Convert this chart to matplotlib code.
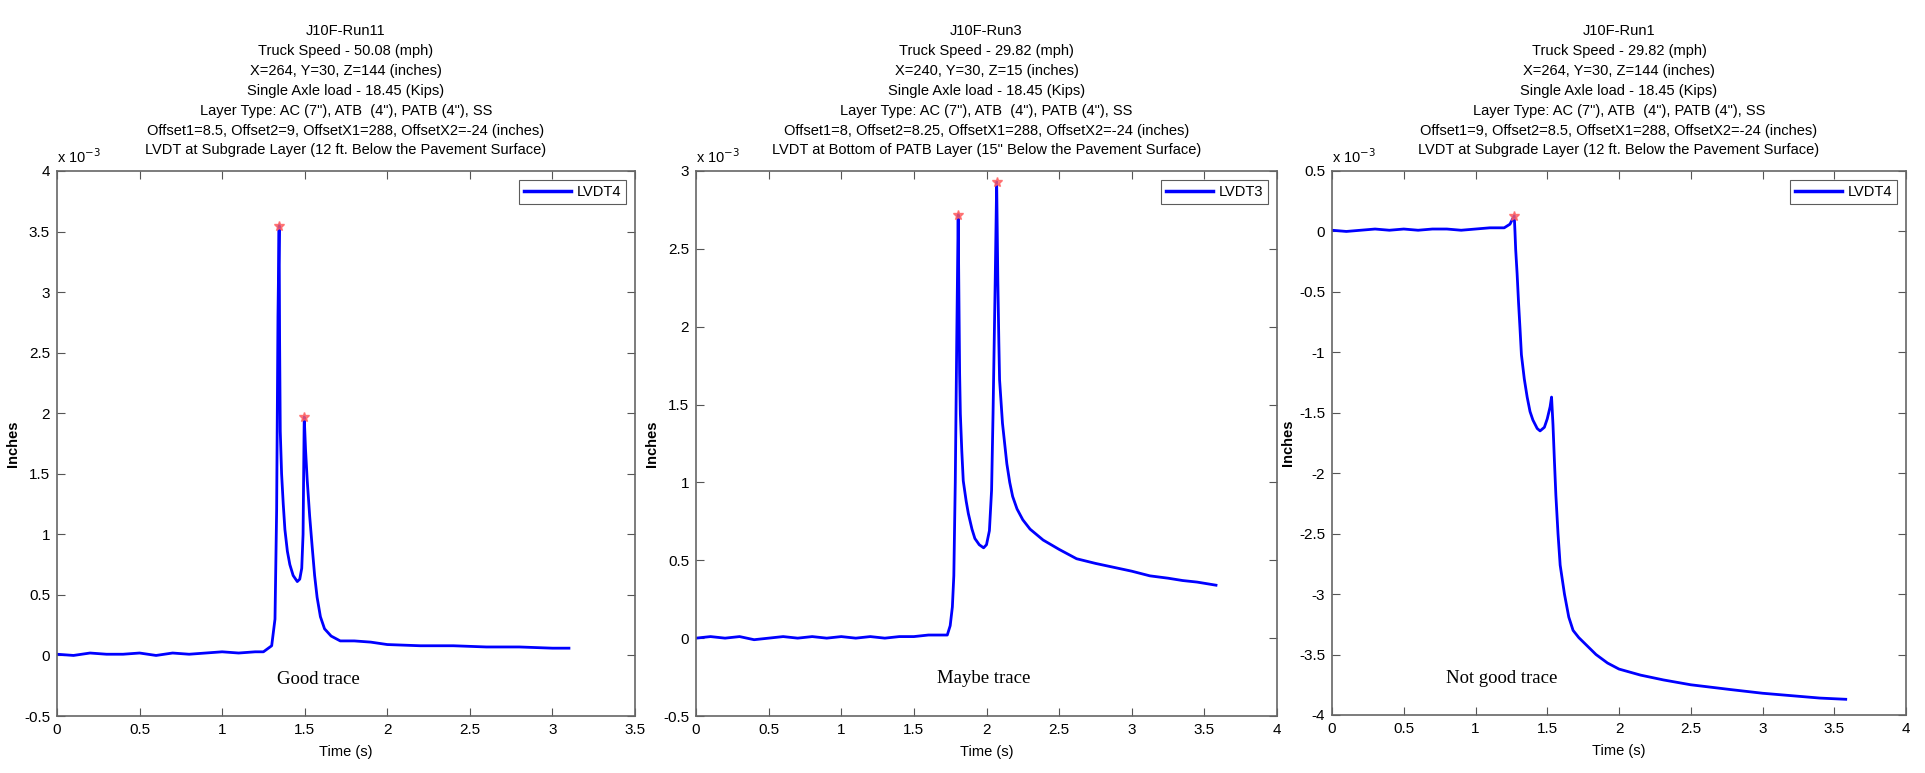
import matplotlib
matplotlib.use("Agg")
import matplotlib.pyplot as plt

plt.rcParams['font.family'] = ['Liberation Sans', 'DejaVu Sans']

# Displacement traces, values in units of 1e-3 inches
t_run11 = [0, 0.1, 0.2, 0.3, 0.4, 0.5, 0.6, 0.7, 0.8, 0.9, 1.0, 1.1, 1.2, 1.25,
           1.3, 1.32, 1.33, 1.338, 1.345, 1.348, 1.352, 1.36, 1.37, 1.38, 1.395,
           1.41, 1.43, 1.455, 1.47, 1.482, 1.49, 1.497, 1.505, 1.515, 1.53,
           1.545, 1.56, 1.575, 1.595, 1.62, 1.66, 1.715, 1.8, 1.9, 2.0, 2.2,
           2.4, 2.6, 2.8, 3.0, 3.1]
v_run11 = [0.01, 0.0, 0.02, 0.01, 0.01, 0.02, 0.0, 0.02, 0.01, 0.02, 0.03, 0.02,
           0.03, 0.03, 0.08, 0.3, 1.2, 2.8, 3.55, 2.6, 1.85, 1.5, 1.25, 1.04,
           0.86, 0.75, 0.66, 0.61, 0.63, 0.72, 1.0, 1.97, 1.7, 1.45, 1.15, 0.9,
           0.66, 0.48, 0.32, 0.22, 0.16, 0.12, 0.12, 0.11, 0.09, 0.08, 0.08,
           0.07, 0.07, 0.06, 0.06]

t_run3 = [0, 0.1, 0.2, 0.3, 0.4, 0.5, 0.6, 0.7, 0.8, 0.9, 1.0, 1.1, 1.2, 1.3,
          1.4, 1.5, 1.6, 1.7, 1.73, 1.75, 1.765, 1.775, 1.785, 1.795, 1.805,
          1.81, 1.815, 1.82, 1.83, 1.84, 1.86, 1.875, 1.9, 1.92, 1.95, 1.98,
          2.0, 2.02, 2.035, 2.045, 2.06, 2.07, 2.078, 2.085, 2.09, 2.11, 2.14,
          2.16, 2.18, 2.21, 2.25, 2.3, 2.39, 2.5, 2.62, 2.75, 2.9, 3.0, 3.125,
          3.25, 3.35, 3.45, 3.58]
v_run3 = [0.0, 0.01, 0.0, 0.01, -0.01, 0.0, 0.01, 0.0, 0.01, 0.0, 0.01, 0.0,
          0.01, 0.0, 0.01, 0.01, 0.02, 0.02, 0.02, 0.08, 0.2, 0.4, 1.0, 1.9,
          2.72, 2.2, 1.7, 1.44, 1.2, 1.01, 0.88, 0.80, 0.70, 0.64, 0.60, 0.58,
          0.60, 0.69, 0.95, 1.44, 2.3, 2.93, 2.3, 1.9, 1.66, 1.38, 1.12, 1.0,
          0.91, 0.83, 0.76, 0.70, 0.63, 0.57, 0.51, 0.48, 0.45, 0.43, 0.40,
          0.385, 0.37, 0.36, 0.34]

t_run1 = [0, 0.1, 0.2, 0.3, 0.4, 0.5, 0.6, 0.7, 0.8, 0.9, 1.0, 1.1, 1.2, 1.24,
          1.27, 1.275, 1.28, 1.29, 1.30, 1.31, 1.32, 1.34, 1.36, 1.38, 1.40,
          1.43, 1.45, 1.48, 1.5, 1.52, 1.53, 1.54, 1.55, 1.56, 1.575, 1.59,
          1.62, 1.65, 1.68, 1.72, 1.78, 1.84, 1.92, 2.0, 2.15, 2.31, 2.5, 2.78,
          3.0, 3.2, 3.4, 3.58]
v_run1 = [0.01, 0.0, 0.01, 0.02, 0.01, 0.02, 0.01, 0.02, 0.02, 0.01, 0.02, 0.03,
          0.03, 0.06, 0.13, 0.0, -0.15, -0.35, -0.59, -0.8, -1.02, -1.22,
          -1.37, -1.49, -1.56, -1.63, -1.65, -1.62, -1.55, -1.45, -1.37, -1.6,
          -1.9, -2.18, -2.5, -2.76, -3.0, -3.19, -3.3, -3.36, -3.43, -3.5,
          -3.57, -3.62, -3.67, -3.71, -3.75, -3.79, -3.82, -3.84, -3.86, -3.87]

# Detected peaks (red stars)
pk_run11_t, pk_run11_v = [1.345, 1.497], [3.55, 1.97]
pk_run3_t, pk_run3_v = [1.805, 2.07], [2.72, 2.93]
pk_run1_t, pk_run1_v = [1.27], [0.13]

titles = [
    "J10F-Run11\nTruck Speed - 50.08 (mph)\nX=264, Y=30, Z=144 (inches)\n"
    "Single Axle load - 18.45 (Kips)\nLayer Type: AC (7\"), ATB  (4\"), PATB (4\"), SS\n"
    "Offset1=8.5, Offset2=9, OffsetX1=288, OffsetX2=-24 (inches)\n"
    "LVDT at Subgrade Layer (12 ft. Below the Pavement Surface)",
    "J10F-Run3\nTruck Speed - 29.82 (mph)\nX=240, Y=30, Z=15 (inches)\n"
    "Single Axle load - 18.45 (Kips)\nLayer Type: AC (7\"), ATB  (4\"), PATB (4\"), SS\n"
    "Offset1=8, Offset2=8.25, OffsetX1=288, OffsetX2=-24 (inches)\n"
    "LVDT at Bottom of PATB Layer (15\" Below the Pavement Surface)",
    "J10F-Run1\nTruck Speed - 29.82 (mph)\nX=264, Y=30, Z=144 (inches)\n"
    "Single Axle load - 18.45 (Kips)\nLayer Type: AC (7\"), ATB  (4\"), PATB (4\"), SS\n"
    "Offset1=9, Offset2=8.5, OffsetX1=288, OffsetX2=-24 (inches)\n"
    "LVDT at Subgrade Layer (12 ft. Below the Pavement Surface)",
]
legends = ["LVDT4", "LVDT3", "LVDT4"]
notes = ["Good trace", "Maybe trace", "Not good trace"]
note_pos = [(1.58, -0.2), (1.98, -0.26), (1.18, -3.70)]

series = [(t_run11, v_run11, pk_run11_t, pk_run11_v),
          (t_run3, v_run3, pk_run3_t, pk_run3_v),
          (t_run1, v_run1, pk_run1_t, pk_run1_v)]
xlims = [(0, 3.5), (0, 4), (0, 4)]
ylims = [(-0.5, 4), (-0.5, 3), (-4, 0.5)]
yticks = [[-0.5, 0, 0.5, 1, 1.5, 2, 2.5, 3, 3.5, 4],
          [-0.5, 0, 0.5, 1, 1.5, 2, 2.5, 3],
          [-4, -3.5, -3, -2.5, -2, -1.5, -1, -0.5, 0, 0.5]]

W, H = 1925, 773
boxes = [(57, 635, 171, 716), (696, 1277, 171, 716), (1332, 1906, 171, 715)]

fig = plt.figure(figsize=(W / 100, H / 100), dpi=100)

for i, (l, r, top, bot) in enumerate(boxes):
    ax = fig.add_axes([l / W, 1 - bot / H, (r - l) / W, (bot - top) / H])
    t, v, pt, pv = series[i]
    ax.plot(t, v, color="blue", lw=2.0, label=legends[i])
    ax.plot(pt, pv, ls="none", marker="*", ms=7, color="#ff6060", alpha=0.8)
    ax.set_xlim(*xlims[i])
    ax.set_ylim(*ylims[i])
    ax.set_yticks(yticks[i])
    ax.set_yticklabels([f"{y:g}" for y in yticks[i]])
    xt = [x * 0.5 for x in range(int(xlims[i][1] * 2) + 1)]
    ax.set_xticks(xt)
    ax.set_xticklabels([f"{x:g}" for x in xt])
    ax.tick_params(direction="in", top=True, right=True, length=6,
                   width=0.8, color="#555555", labelsize=11, pad=5)
    for s in ax.spines.values():
        s.set_color("#666666")
        s.set_linewidth(1.2)
    ax.set_title(titles[i], fontsize=10.5, linespacing=1.53, pad=12)
    ax.set_xlabel("Time (s)", fontsize=10.5, labelpad=6)
    ax.set_ylabel("Inches", fontsize=10.5, fontweight="bold", labelpad=3)
    ax.text(0.0, 1.01, "x 10$^{-3}$", transform=ax.transAxes, fontsize=10.5,
            ha="left", va="bottom")
    ax.text(*note_pos[i], notes[i], family="Liberation Serif", fontsize=13.5,
            ha="center", va="center")
    leg = ax.legend(loc="upper right", fontsize=10.5, handlelength=3.2,
                    fancybox=False, borderaxespad=0.6, borderpad=0.35,
                    handletextpad=0.4)
    leg.get_frame().set_edgecolor("#333333")
    leg.get_frame().set_linewidth(0.8)
    leg.get_lines()[0].set_linewidth(2.5)

fig.savefig("out.png", dpi=100)
